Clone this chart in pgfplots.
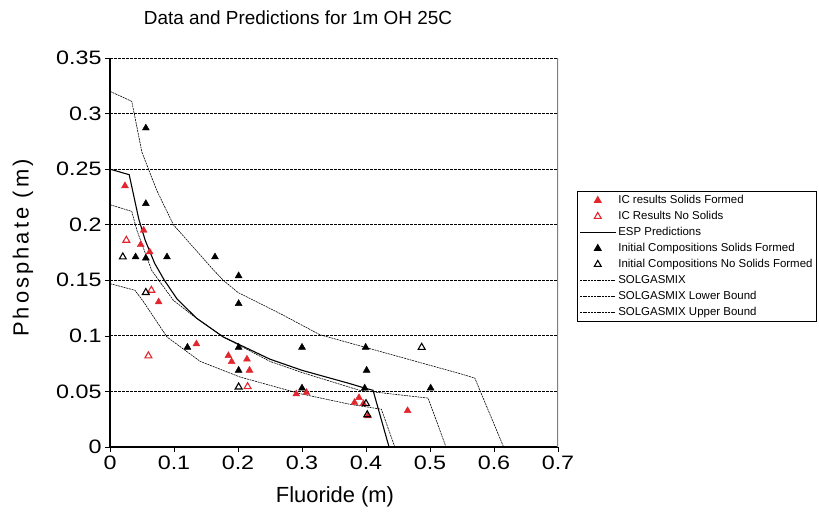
\documentclass[border=0pt]{standalone}
\usepackage{fontspec}
\setmainfont{Liberation Sans}
\newfontfamily\tickfont[FakeStretch=1.2]{Liberation Sans}
\usepackage{pgfplots}
\pgfplotsset{compat=1.18}
\definecolor{icred}{RGB}{226,38,46}
\begin{document}
\begin{tikzpicture}
\begin{axis}[
  at={(110bp,68bp)}, anchor=south west,
  scale only axis, width=448bp, height=389bp,
  xmin=0, xmax=0.7, ymin=0, ymax=0.35,
  xtick={0,0.1,0.2,0.3,0.4,0.5,0.6,0.7},
  ytick={0,0.05,0.1,0.15,0.2,0.25,0.3,0.35},
  axis x line*=bottom, axis y line*=left,
  axis line style={line width=1.2bp},
  tick align=outside, major tick length=5bp,
  tick style={black, line width=0.7bp},
  ymajorgrids, grid style={black, line width=0.8bp, dash pattern=on 3bp off 1bp},
  tick label style={font=\tickfont\fontsize{19.5}{20}\selectfont},
  /pgf/number format/assume math mode=true,
  /pgf/number format/fixed,
  legend cell align=left,
  legend image code/.code={\draw[mark repeat=2,mark phase=2,#1] plot coordinates {(0bp,0bp) (18bp,0bp) (36bp,0bp)};},
  legend style={at={(1.042,0.658)}, anchor=north west, draw=black, line width=0.8bp,
    font=\fontsize{11.5}{13}\selectfont, inner xsep=2bp, inner ysep=1bp,
    nodes={inner xsep=2bp, inner ysep=2.5bp, text height=8.5bp, text depth=2.5bp}},
]
% IC results, solids formed
\addplot[only marks, mark=triangle*, mark size=4bp, color=icred] coordinates {
 (0.0234,0.235)(0.0526,0.195)(0.048,0.182)(0.062,0.1755)(0.076,0.1305)
 (0.135,0.0927)(0.185,0.0822)(0.190,0.0768)(0.214,0.079)(0.218,0.069)
 (0.291,0.0477)(0.307,0.049)(0.382,0.040)(0.389,0.0444)(0.396,0.039)
 (0.403,0.028)(0.465,0.0327)
};
\addlegendentry{IC results Solids Formed}
% IC results, no solids
\addplot[only marks, mark=triangle, mark size=4bp, color=icred, mark options={fill=white, line width=1.1bp}] coordinates {
 (0.0255,0.186)(0.0646,0.141)(0.060,0.082)(0.215,0.0543)
};
\addlegendentry{IC Results No Solids}
% ESP
\addplot[black, line width=1.1bp] coordinates {
 (0,0.25)(0.03,0.245)(0.045,0.205)(0.055,0.186)(0.07,0.165)(0.085,0.150)
 (0.105,0.133)(0.135,0.116)(0.177,0.099)(0.25,0.079)(0.3,0.069)(0.375,0.057)
 (0.398,0.053)(0.411,0.051)(0.436,0)
};
\addlegendentry{ESP Predictions}
% initial compositions, solids formed
\addplot[only marks, mark=triangle*, mark size=4bp, color=black] coordinates {
 (0.056,0.287)(0.056,0.219)(0.040,0.171)(0.056,0.170)(0.089,0.171)(0.164,0.171)
 (0.201,0.154)(0.201,0.129)(0.121,0.0897)(0.201,0.0897)(0.201,0.069)
 (0.300,0.0897)(0.300,0.053)(0.3995,0.0897)(0.401,0.069)(0.398,0.053)(0.501,0.053)
};
\addlegendentry{Initial Compositions Solids Formed}
% initial compositions, no solids
\addplot[only marks, mark=triangle, mark size=4bp, color=black, mark options={fill=white, line width=1.1bp}] coordinates {
 (0.020,0.171)(0.056,0.139)(0.201,0.054)(0.487,0.0897)(0.400,0.039)(0.402,0.029)
};
\addlegendentry{Initial Compositions No Solids Formed}
% SOLGASMIX
\addplot[black, line width=0.6bp, dash pattern=on 2bp off 0.8bp] coordinates {
 (0,0.218)(0.034,0.212)(0.042,0.195)(0.065,0.159)(0.08,0.147)(0.099,0.132)
 (0.13,0.118)(0.177,0.099)(0.25,0.077)(0.3,0.067)(0.39,0.051)(0.497,0.044)(0.525,0)
};
\addlegendentry{SOLGASMIX}
% lower bound
\addplot[black, line width=0.6bp, dash pattern=on 2bp off 0.8bp] coordinates {
 (0,0.147)(0.039,0.141)(0.052,0.131)(0.089,0.099)(0.141,0.077)(0.203,0.063)
 (0.297,0.048)(0.375,0.0384)(0.424,0.034)(0.445,0)
};
\addlegendentry{SOLGASMIX Lower Bound}
% upper bound
\addplot[black, line width=0.6bp, dash pattern=on 2bp off 0.8bp] coordinates {
 (0,0.32)(0.034,0.311)(0.05,0.265)(0.073,0.231)(0.099,0.2)(0.159,0.161)
 (0.177,0.150)(0.2,0.139)(0.266,0.120)(0.328,0.101)(0.453,0.081)
 (0.547,0.066)(0.57,0.062)(0.615,0)
};
\addlegendentry{SOLGASMIX Upper Bound}
\draw[gray, line width=1.5bp] (rel axis cs:1,0) -- (rel axis cs:1,1);
\end{axis}
\node[font=\fontsize{19}{19}\selectfont] at (298bp,497bp) {Data and Predictions for 1m OH 25C};
\node[font=\fontsize{22}{22}\selectfont] at (335bp,18bp) {Fluoride (m)};
\node[rotate=90, font=\fontsize{22}{22}\selectfont] at (23bp,267bp) {\addfontfeature{LetterSpace=14}Phosphate (m)};
\pgfresetboundingbox
\useasboundingbox (0,0) rectangle (819bp,515bp);
\end{tikzpicture}
\end{document}
